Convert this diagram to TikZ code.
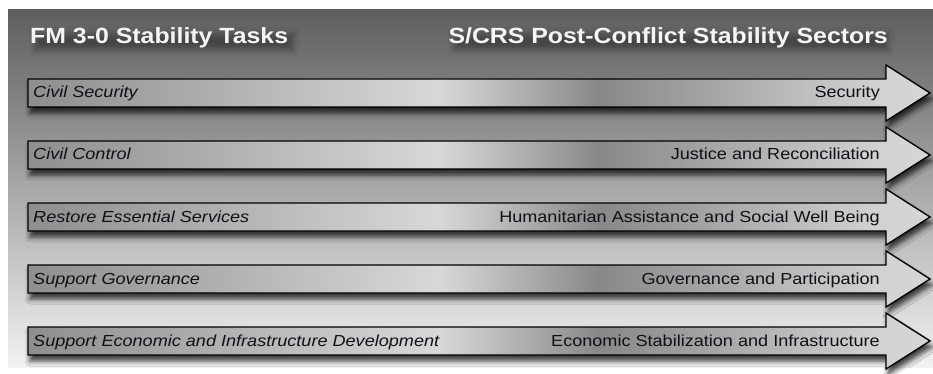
\documentclass[tikz,border=0pt]{standalone}
\usepackage{fontspec}
\setmainfont{Liberation Sans}[FakeStretch=1.13]
\usetikzlibrary{shadows.blur}
\definecolor{bgtop}{HTML}{5E5E5E}
\definecolor{bgbot}{HTML}{F2F2F2}
\definecolor{ba}{HTML}{8E8E8E}
\definecolor{bb}{HTML}{B8B8B8}
\definecolor{bc}{HTML}{D8D8D8}
\definecolor{bd}{HTML}{888888}
\definecolor{be}{HTML}{D2D2D2}
\definecolor{bf}{HTML}{D6D6D6}
\definecolor{txt}{HTML}{101018}
\pgfdeclarehorizontalshading{barshade}{100bp}{color(0bp)=(ba); color(25bp)=(ba); color(38bp)=(bb); color(47.8bp)=(bc); color(56.7bp)=(bd); color(72.2bp)=(be); color(75bp)=(bf); color(100bp)=(bf)}
\tikzset{
  bar/.style={draw=black, line width=1.3pt, shading=barshade, line join=miter,
    blur shadow={shadow xshift=2pt, shadow yshift=-6pt, shadow blur radius=5pt, shadow opacity=75}},
  title/.style={font=\bfseries\fontsize{22}{22}\selectfont, text=white!96!black, inner sep=0pt},
  halo/.style={blur shadow={shadow xshift=2pt, shadow yshift=-3pt, shadow blur radius=6pt, shadow opacity=35}},
  leftlab/.style={font=\itshape\fontsize{16}{16}\selectfont, text=txt, inner sep=0pt, anchor=base west},
  rightlab/.style={font=\fontsize{16}{16}\selectfont, text=txt, inner sep=0pt, anchor=base east}
}
\begin{document}
\begin{tikzpicture}[x=1pt,y=-1pt]
\useasboundingbox (0,0) rectangle (933,374);
\shade[top color=bgtop, bottom color=bgbot] (8,10) rectangle (933,367);
% soft shadows behind the titles
\path[halo] (33,31) rectangle (291,47);
\path[halo] (452,31) rectangle (886,47);
% titles
\node[title, anchor=base west] (t1) at (30,44) {FM 3-0 Stability Tasks};
\node[title, anchor=base east] (t2) at (888,44) {S/CRS Post-Conflict Stability Sectors};
% arrows
\foreach \yc/\nm in {93/a1,155/a2,217/a3,279/a4,341/a5}{
  \path[bar] (28,\yc-14) -- (886,\yc-14) -- (886,\yc-28) -- (930,\yc) -- (886,\yc+28) -- (886,\yc+14) -- (28,\yc+14) -- cycle;
}
% labels
\node[leftlab] (l1) at (33,98) {Civil Security};
\node[rightlab] (r1) at (880,98) {Security};
\node[leftlab] (l2) at (33,160) {Civil Control};
\node[rightlab] (r2) at (880,160) {Justice and Reconciliation};
\node[leftlab] (l3) at (33,222) {Restore Essential Services};
\node[rightlab] (r3) at (880,222) {Humanitarian Assistance and Social Well Being};
\node[leftlab] (l4) at (33,284) {Support Governance};
\node[rightlab] (r4) at (880,284) {Governance and Participation};
\node[leftlab] (l5) at (33,346) {Support Economic and Infrastructure Development};
\node[rightlab] (r5) at (880,346) {Economic Stabilization and Infrastructure};
\end{tikzpicture}
\end{document}
